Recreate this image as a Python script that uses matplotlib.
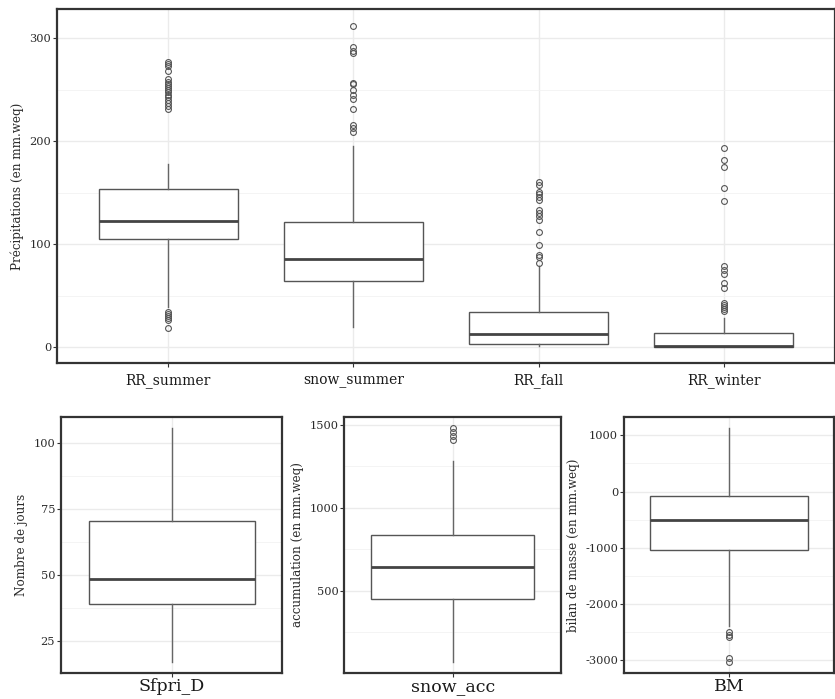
import matplotlib
matplotlib.use("Agg")
import matplotlib.pyplot as plt
from matplotlib.ticker import MultipleLocator

plt.rcParams['font.family'] = ['DejaVu Serif']
plt.rcParams['axes.unicode_minus'] = False

# ---- Top panel data (Précipitations) ----
top_categories = ["RR_summer", "snow_summer", "RR_fall", "RR_winter"]
top_q1 = [105.2, 64.4, 3.2, 0.0]
top_median = [122.4, 85.5, 12.6, 0.5]
top_q3 = [153.2, 121.1, 34.0, 13.6]
top_whislo = [38.9, 19.1, 0.6, 0.0]
top_whishi = [177.5, 195.0, 79.0, 28.2]
top_fliers = [
    [277, 275, 273, 268, 261, 258, 256, 254, 252, 250, 248, 245, 243, 240, 237, 234, 231,
     34, 32, 30, 28, 26, 18.5],
    [312, 292, 288, 286, 257, 256, 250, 245, 241, 231, 216, 213, 209],
    [160, 157.7, 151, 149, 146, 143, 133.4, 130.5, 127.6, 123.7, 111.8, 99.1, 89.7, 87.5, 82],
    [193.4, 181.7, 174.5, 154.5, 141.9, 78.3, 75.1, 70.9, 62.2, 57.3, 42.8, 41, 39, 37, 35],
]
top_ylabel = "Précipitations (en mm.weq)"
top_yticks = [0, 100, 200, 300]

# ---- Bottom panels ----
bot_categories = ["Sfpri_D", "snow_acc", "BM"]
bot_ylabels = ["Nombre de jours", "accumulation (en mm.weq)", "bilan de masse (en mm.weq)"]
bot_q1 = [39.0, 450, -1042]
bot_median = [48.5, 644.6, -499]
bot_q3 = [70.5, 835.5, -87]
bot_whislo = [17.3, 72, -2403]
bot_whishi = [105.7, 1283, 1125]
bot_fliers = [
    [],
    [1478, 1454, 1430, 1408],
    [-2506, -2548, -2584, -2971, -3030],
]
bot_yticks = [[25, 50, 75, 100], [500, 1000, 1500], [-3000, -2000, -1000, 0, 1000]]
bot_minor = [12.5, 250, 500]

W, H = 835, 699
fig = plt.figure(figsize=(W / 100, H / 100), dpi=100)

def px_axes(x0, y0, x1, y1):
    return fig.add_axes([x0 / W, 1 - y1 / H, (x1 - x0) / W, (y1 - y0) / H])

EDGE = "#333333"
GRID = "#ebebeb"

def style_axes(ax, minor_step):
    ax.set_facecolor("white")
    for s in ax.spines.values():
        s.set_color(EDGE)
        s.set_linewidth(1.6)
    ax.yaxis.set_minor_locator(MultipleLocator(minor_step))
    ax.grid(True, which="major", color=GRID, linewidth=1.0)
    ax.grid(True, which="minor", axis="y", color="#f2f2f2", linewidth=0.6)
    ax.set_axisbelow(True)
    ax.tick_params(axis="both", which="major", direction="out", length=2.75,
                   width=0.8, color=EDGE)
    ax.tick_params(axis="y", which="minor", length=0)
    ax.tick_params(axis="y", labelsize=8.2, labelcolor="#2b2b2b", pad=1.5)

def draw_boxes(ax, labels, q1, med, q3, lo, hi, fliers, width):
    stats = []
    for i in range(len(labels)):
        stats.append(dict(label=labels[i], q1=q1[i], med=med[i], q3=q3[i],
                          whislo=lo[i], whishi=hi[i], fliers=fliers[i]))
    ax.bxp(stats, positions=list(range(1, len(labels) + 1)), widths=width,
           showcaps=False, patch_artist=True,
           boxprops=dict(facecolor="white", edgecolor="#555555", linewidth=1.0),
           medianprops=dict(color="#444444", linewidth=2.0),
           whiskerprops=dict(color="#666666", linewidth=1.0),
           flierprops=dict(marker="o", markersize=4.2, markerfacecolor="none",
                           markeredgecolor="#555555", markeredgewidth=0.8))

# Top panel
ax = px_axes(57, 9.3, 835, 363)
draw_boxes(ax, top_categories, top_q1, top_median, top_q3, top_whislo, top_whishi,
           top_fliers, 0.75)
ax.set_xlim(0.4, 4.6)
ax.set_ylim(-15.6, 328.3)
ax.set_yticks(top_yticks)
style_axes(ax, 50)
ax.tick_params(axis="x", labelsize=10, labelcolor="#1a1a1a", pad=4.5)
ax.set_ylabel(top_ylabel, fontsize=8.6, color="#2b2b2b", labelpad=4)

# Bottom panels
bot_pos = [(61, 282.3), (344.3, 561.3), (624, 834)]
for i in range(3):
    x0, x1 = bot_pos[i]
    a = px_axes(x0, 416.7, x1, 673.3)
    draw_boxes(a, [bot_categories[i]], [bot_q1[i]], [bot_median[i]], [bot_q3[i]],
               [bot_whislo[i]], [bot_whishi[i]], [bot_fliers[i]], 0.9)
    a.set_xlim(0.4, 1.6)
    vals = [bot_whislo[i], bot_whishi[i]] + bot_fliers[i]
    lo, hi = min(vals), max(vals)
    pad = (hi - lo) * 0.05
    a.set_ylim(lo - pad, hi + pad)
    a.set_yticks(bot_yticks[i])
    style_axes(a, bot_minor[i])
    a.tick_params(axis="x", labelsize=12.5, labelcolor="#1a1a1a", pad=0.5)
    a.set_ylabel(bot_ylabels[i], fontsize=8.6, color="#2b2b2b", labelpad=4)

fig.savefig("out.png", dpi=100, facecolor="white")
